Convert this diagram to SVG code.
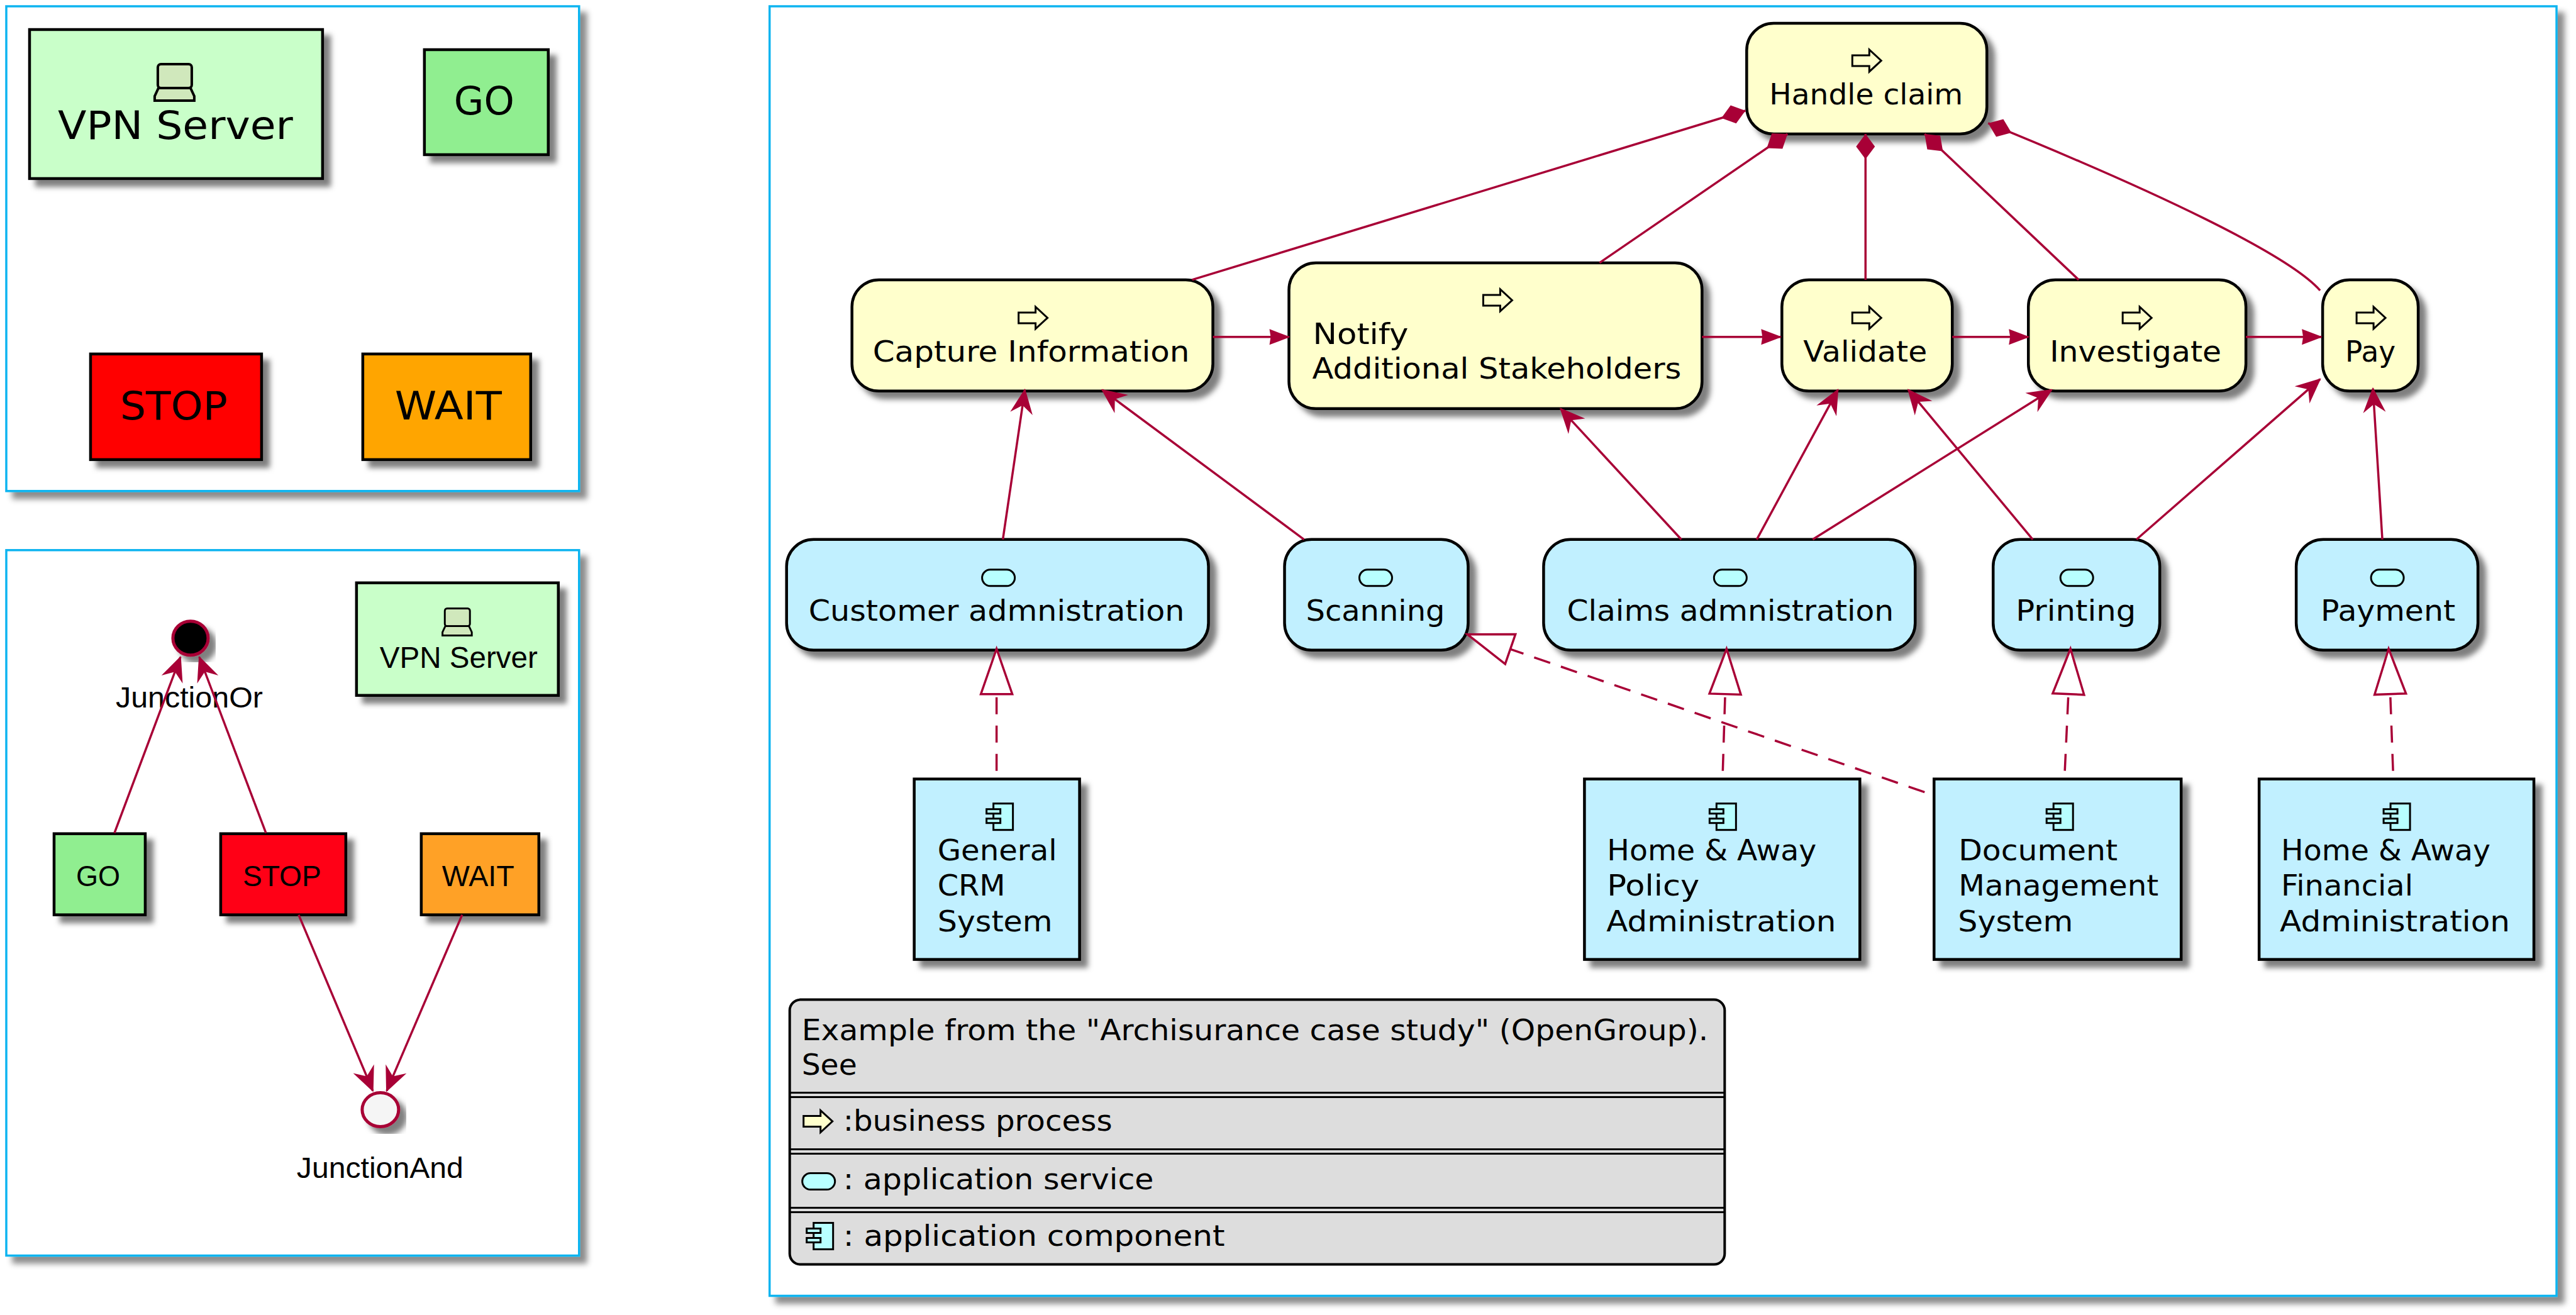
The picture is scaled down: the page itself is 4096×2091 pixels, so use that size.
<svg xmlns="http://www.w3.org/2000/svg" xmlns:xlink="http://www.w3.org/1999/xlink" width="4096" height="2091" viewBox="0 0 4096 2091">
<style>
text{fill:#000;font-family:"DejaVu Sans",sans-serif;font-size:46px}
.lib{font-family:"Liberation Sans",Arial,sans-serif;font-size:46px}
.big{font-size:63px}
.panel{fill:#fff;stroke:#0AB4F0;stroke-width:3.500;filter:url(#sh2)}
.n{stroke:#000;stroke-width:4.500;filter:url(#sh)}
.y{fill:#FFFFCC}.b{fill:#C1F0FF}
.l{fill:none;stroke:#A80036;stroke-width:3.500}
.d{stroke-dasharray:27 18}
.open{marker-end:url(#open)}
.fill{marker-end:url(#filled)}
.comp{marker-end:url(#diamond)}
.real{marker-end:url(#tri)}
.ic{stroke:#000;stroke-width:3}
.sep{stroke:#000;stroke-width:3;fill:none}
</style>
<defs>
<filter id="sh" x="-15%" y="-15%" width="135%" height="135%"><feDropShadow dx="11" dy="11" stdDeviation="4.500" flood-color="#000" flood-opacity="0.5"/></filter>
<filter id="sh2" x="-5%" y="-5%" width="112%" height="112%"><feDropShadow dx="11" dy="11" stdDeviation="5" flood-color="#000" flood-opacity="0.45"/></filter>
<marker id="open" markerUnits="userSpaceOnUse" markerWidth="40" markerHeight="36" refX="38" refY="18" orient="auto" overflow="visible"><path d="M40,18 L0,0 L13,18 L0,36 Z" fill="#A80036"/></marker>
<marker id="filled" markerUnits="userSpaceOnUse" markerWidth="33" markerHeight="25" refX="31" refY="12.500" orient="auto" overflow="visible"><path d="M33,12.500 L0,0 L2,12.500 L0,25 Z" fill="#A80036"/></marker>
<marker id="diamond" markerUnits="userSpaceOnUse" markerWidth="40" markerHeight="30" refX="40" refY="15" orient="auto" overflow="visible"><path d="M40,15 L20,0 L0,15 L20,30 Z" fill="#A80036"/></marker>
<marker id="tri" markerUnits="userSpaceOnUse" markerWidth="72" markerHeight="50" refX="72" refY="25" orient="auto" overflow="visible"><path d="M72,25 L0,0 L0,50 Z" fill="#fff" stroke="#A80036" stroke-width="3.500"/></marker>
<g id="iArrow"><path class="ic" fill="#FFFFCC" d="M1,10 H28 V1 L47,18.500 L28,36 V27 H1 Z"/></g>
<g id="iSvc"><rect class="ic" fill="#B8FFFF" x="1" y="1" width="52" height="26" rx="13"/></g>
<g id="iComp"><rect class="ic" fill="#B8FFFF" x="12" y="1" width="31" height="42"/><rect class="ic" fill="#B8FFFF" x="1" y="10" width="22" height="7"/><rect class="ic" fill="#B8FFFF" x="1" y="25" width="22" height="7"/></g>
<g id="iLap"><rect fill="#D0E8BC" stroke="#000" stroke-width="4" x="6" y="1" width="54" height="38" rx="5"/><path fill="#D0E8BC" stroke="#000" stroke-width="4" d="M7,39 H58 L64,52 V59 H1 V52 Z"/></g>
</defs>
<rect width="4096" height="2091" fill="#fff"/>
<g transform="scale(0.99976)">
<g id="panels">
<rect class="panel" x="10" y="10" width="911" height="771"/>
<rect class="panel" x="10" y="875" width="911" height="1122"/>
<rect class="panel" x="1224" y="10" width="2842" height="2051"/>
</g>

<g id="vpn1"><rect class="n" fill="#C9FFC9" x="47" y="47" width="466" height="237"/><use xlink:href="#iLap" href="#iLap" x="245" y="101"/><text class="big" x="92" y="221" textLength="374" lengthAdjust="spacingAndGlyphs">VPN Server</text></g>
<g id="go1"><rect class="n" fill="#90EE90" x="675" y="79" width="197" height="167"/><text class="big" x="722" y="182" textLength="96" lengthAdjust="spacingAndGlyphs">GO</text></g>
<g id="stop1"><rect class="n" fill="#FF0000" x="144" y="563" width="272" height="168"/><text class="big" x="191" y="667" textLength="171" lengthAdjust="spacingAndGlyphs">STOP</text></g>
<g id="wait1"><rect class="n" fill="#FFA500" x="577" y="563" width="267" height="168"/><text class="big" x="628" y="667" textLength="170" lengthAdjust="spacingAndGlyphs">WAIT</text></g>

<g id="vpn2"><rect class="n" fill="#C9FFC9" x="567" y="927" width="321" height="179"/><g transform="translate(703,967) scale(0.74)"><use xlink:href="#iLap" href="#iLap"/></g><text class="lib" style="font-size:48px" x="604" y="1062" textLength="251" lengthAdjust="spacingAndGlyphs">VPN Server</text></g>
<g id="or"><ellipse cx="303" cy="1015" rx="28" ry="27" fill="#000" stroke="#A80036" stroke-width="5" filter="url(#sh)"/><text class="lib" x="184" y="1125" textLength="234" lengthAdjust="spacingAndGlyphs">JunctionOr</text></g>
<g id="and"><ellipse cx="605" cy="1765" rx="29" ry="27" fill="#F5F5F5" stroke="#A80036" stroke-width="5" filter="url(#sh)"/><text class="lib" x="472" y="1873" textLength="265" lengthAdjust="spacingAndGlyphs">JunctionAnd</text></g>
<g id="go2"><rect class="n" fill="#90EE90" x="86" y="1326" width="145" height="129"/><text class="lib" x="121" y="1409" textLength="70" lengthAdjust="spacingAndGlyphs">GO</text></g>
<g id="stop2"><rect class="n" fill="#FF0015" x="351" y="1326" width="199" height="129"/><text class="lib" x="386" y="1409" textLength="125" lengthAdjust="spacingAndGlyphs">STOP</text></g>
<g id="wait2"><rect class="n" fill="#FFA126" x="670" y="1326" width="187" height="129"/><text class="lib" x="703" y="1409" textLength="115" lengthAdjust="spacingAndGlyphs">WAIT</text></g>

<g id="handle"><rect class="n y" x="2778" y="37" width="382" height="176" rx="43"/><use xlink:href="#iArrow" href="#iArrow" x="2945" y="78"/><text x="2814" y="166" textLength="308" lengthAdjust="spacingAndGlyphs">Handle claim</text></g>
<g id="capture"><rect class="n y" x="1355" y="445" width="574" height="177" rx="43"/><use xlink:href="#iArrow" href="#iArrow" x="1619" y="487"/><text x="1388" y="575" textLength="504" lengthAdjust="spacingAndGlyphs">Capture Information</text></g>
<g id="notify"><rect class="n y" x="2050" y="418" width="657" height="232" rx="43"/><use xlink:href="#iArrow" href="#iArrow" x="2358" y="459"/><text x="2088" y="547" textLength="152" lengthAdjust="spacingAndGlyphs">Notify</text><text x="2087" y="602" textLength="587" lengthAdjust="spacingAndGlyphs">Additional Stakeholders</text></g>
<g id="validate"><rect class="n y" x="2834" y="445" width="271" height="177" rx="43"/><use xlink:href="#iArrow" href="#iArrow" x="2945" y="487"/><text x="2868" y="575" textLength="197" lengthAdjust="spacingAndGlyphs">Validate</text></g>
<g id="investigate"><rect class="n y" x="3226" y="445" width="346" height="177" rx="43"/><use xlink:href="#iArrow" href="#iArrow" x="3375" y="487"/><text x="3260" y="575" textLength="273" lengthAdjust="spacingAndGlyphs">Investigate</text></g>
<g id="pay"><rect class="n y" x="3694" y="445" width="152" height="177" rx="43"/><use xlink:href="#iArrow" href="#iArrow" x="3747" y="487"/><text x="3730" y="575" textLength="80" lengthAdjust="spacingAndGlyphs">Pay</text></g>

<g id="customer"><rect class="n b" x="1251" y="858" width="671" height="176" rx="43"/><use xlink:href="#iSvc" href="#iSvc" x="1561" y="905"/><text x="1286" y="987" textLength="598" lengthAdjust="spacingAndGlyphs">Customer admnistration</text></g>
<g id="scanning"><rect class="n b" x="2043" y="858" width="292" height="176" rx="43"/><use xlink:href="#iSvc" href="#iSvc" x="2161" y="905"/><text x="2077" y="987" textLength="221" lengthAdjust="spacingAndGlyphs">Scanning</text></g>
<g id="claims"><rect class="n b" x="2455" y="858" width="591" height="176" rx="43"/><use xlink:href="#iSvc" href="#iSvc" x="2725" y="905"/><text x="2492" y="987" textLength="520" lengthAdjust="spacingAndGlyphs">Claims admnistration</text></g>
<g id="printing"><rect class="n b" x="3170" y="858" width="265" height="176" rx="43"/><use xlink:href="#iSvc" href="#iSvc" x="3276" y="905"/><text x="3206" y="987" textLength="191" lengthAdjust="spacingAndGlyphs">Printing</text></g>
<g id="payment"><rect class="n b" x="3652" y="858" width="289" height="176" rx="43"/><use xlink:href="#iSvc" href="#iSvc" x="3770" y="905"/><text x="3691" y="987" textLength="214" lengthAdjust="spacingAndGlyphs">Payment</text></g>

<g id="crm"><rect class="n b" x="1454" y="1239" width="263" height="287"/><use xlink:href="#iComp" href="#iComp" x="1568" y="1277"/><text x="1491" y="1368" textLength="190" lengthAdjust="spacingAndGlyphs">General</text><text x="1491" y="1424" textLength="108" lengthAdjust="spacingAndGlyphs">CRM</text><text x="1491" y="1481" textLength="183" lengthAdjust="spacingAndGlyphs">System</text></g>
<g id="policy"><rect class="n b" x="2520" y="1239" width="438" height="287"/><use xlink:href="#iComp" href="#iComp" x="2718" y="1277"/><text x="2556" y="1368" textLength="333" lengthAdjust="spacingAndGlyphs">Home &amp; Away</text><text x="2556" y="1424" textLength="147" lengthAdjust="spacingAndGlyphs">Policy</text><text x="2555" y="1481" textLength="365" lengthAdjust="spacingAndGlyphs">Administration</text></g>
<g id="dms"><rect class="n b" x="3076" y="1239" width="393" height="287"/><use xlink:href="#iComp" href="#iComp" x="3254" y="1277"/><text x="3115" y="1368" textLength="253" lengthAdjust="spacingAndGlyphs">Document</text><text x="3115" y="1424" textLength="318" lengthAdjust="spacingAndGlyphs">Management</text><text x="3114" y="1481" textLength="183" lengthAdjust="spacingAndGlyphs">System</text></g>
<g id="financial"><rect class="n b" x="3593" y="1239" width="437" height="287"/><use xlink:href="#iComp" href="#iComp" x="3790" y="1277"/><text x="3628" y="1368" textLength="333" lengthAdjust="spacingAndGlyphs">Home &amp; Away</text><text x="3628" y="1424" textLength="210" lengthAdjust="spacingAndGlyphs">Financial</text><text x="3626" y="1481" textLength="366" lengthAdjust="spacingAndGlyphs">Administration</text></g>

<g id="legend">
<rect x="1256" y="1590" width="1487" height="421" rx="17" fill="#DDDDDD" stroke="#000" stroke-width="4"/>
<path class="sep" d="M1256,1738 H2743 M1256,1745 H2743 M1256,1828 H2743 M1256,1835 H2743 M1256,1921 H2743 M1256,1928 H2743"/>
<text x="1275" y="1654" textLength="1442" lengthAdjust="spacingAndGlyphs">Example from the "Archisurance case study" (OpenGroup).</text>
<text x="1275" y="1709" textLength="88" lengthAdjust="spacingAndGlyphs">See</text>
<use xlink:href="#iArrow" href="#iArrow" x="1277" y="1765"/>
<text x="1341" y="1798" textLength="428" lengthAdjust="spacingAndGlyphs">:business process</text>
<use xlink:href="#iSvc" href="#iSvc" x="1275" y="1865"/>
<text x="1341" y="1891" textLength="494" lengthAdjust="spacingAndGlyphs">: application service</text>
<use xlink:href="#iComp" href="#iComp" x="1282" y="1944"/>
<text x="1341" y="1981" textLength="607" lengthAdjust="spacingAndGlyphs">: application component</text>
</g>

<g id="connectors">
<path class="l open" d="M182,1325 L287,1045"/>
<path class="l open" d="M423,1325 L317,1045"/>
<path class="l open" d="M475,1455 L593,1735"/>
<path class="l open" d="M735,1455 L615,1735"/>

<path class="l fill" d="M1929,536 H2050"/>
<path class="l fill" d="M2707,536 H2832"/>
<path class="l fill" d="M3105,536 H3226"/>
<path class="l fill" d="M3572,536 H3692"/>

<path class="l comp" d="M1896,445 L2776,176"/>
<path class="l comp" d="M2544,418 L2843,213"/>
<path class="l comp" d="M2967,445 V213"/>
<path class="l comp" d="M3306,445 L3061,213"/>
<path class="l comp" d="M3690,462 C3640,405 3430,305 3162,196"/>

<path class="l open" d="M1595,858 L1630,620"/>
<path class="l open" d="M2074,858 L1753,620"/>
<path class="l open" d="M2674,858 L2482,650"/>
<path class="l open" d="M2794,858 L2923,620"/>
<path class="l open" d="M2883,858 L3263,620"/>
<path class="l open" d="M3233,858 L3035,620"/>
<path class="l open" d="M3398,858 L3690,603"/>
<path class="l open" d="M3789,858 L3774,618"/>

<path class="l d real" d="M1585,1226 V1032"/>
<path class="l d real" d="M3061,1260 L2334,1009"/>
<path class="l d real" d="M2740,1226 L2746,1032"/>
<path class="l d real" d="M3284,1226 L3293,1032"/>
<path class="l d real" d="M3806,1226 L3799,1032"/>
</g>
</g>
</svg>
